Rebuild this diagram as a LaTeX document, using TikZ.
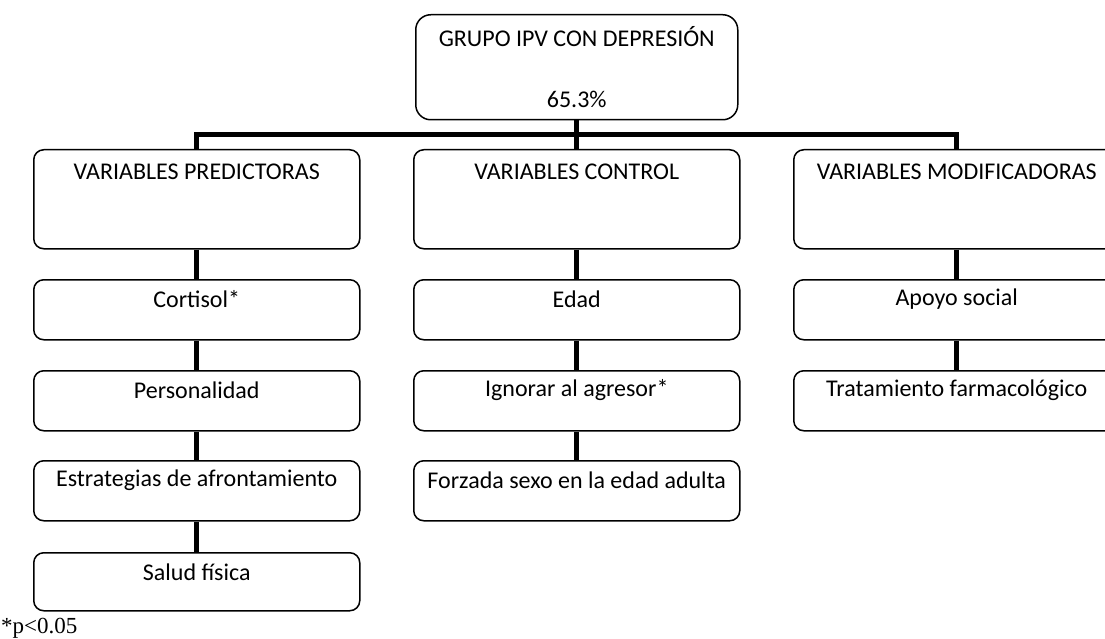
\documentclass[tikz,border=0pt]{standalone}
\usepackage{fontspec}
\setmainfont{Carlito}
\newfontfamily\notefont{Liberation Serif}

\begin{document}
\begin{tikzpicture}[x=1pt,y=-1pt,
  box/.style={draw, line width=1.5pt, rounded corners=10pt, anchor=north west,
              minimum width=326pt, minimum height=60pt, inner sep=0pt},
  headbox/.style={box, minimum height=99pt},
  topbox/.style={box, rounded corners=15pt, minimum width=322pt, minimum height=105pt},
  lbl/.style={anchor=center, inner sep=0pt, font=\fontsize{24}{28}\selectfont},
  conn/.style={line width=5pt}]
\useasboundingbox (0,0) rectangle (1105,639);

% root
\node[topbox] (top) at (415,14) {};
\node[lbl] (top-a) at ([yshift=-23pt]top.north) {GRUPO IPV CON DEPRESIÓN};
\node[lbl] (top-b) at ([yshift=21pt]top.south) {65.3\%};

% group headers
\node[headbox] (pred) at (33,149) {};
\node[headbox] (ctrl) at (413,149) {};
\node[headbox] (modi) at (793,149) {};
\node[lbl] (pred-t) at ([yshift=-23pt]pred.north) {VARIABLES PREDICTORAS};
\node[lbl] (ctrl-t) at ([yshift=-23pt]ctrl.north) {VARIABLES CONTROL};
\node[lbl] (modi-t) at ([yshift=-23pt]modi.north) {VARIABLES MODIFICADORAS};

% predictors
\node[box] (p1) at (33,279) {};
\node[box] (p2) at (33,370) {};
\node[box] (p3) at (33,460) {};
\node[box, minimum height=58pt] (p4) at (33,552) {};
\node[lbl] (p1-t) at ([yshift=-20pt]p1.north) {Cortisol*};
\node[lbl] (p2-t) at ([yshift=-20pt]p2.north) {Personalidad};
\node[lbl] (p3-t) at ([yshift=-20pt]p3.north) {Estrategias de afrontamiento};
\node[lbl] (p4-t) at ([yshift=-20pt]p4.north) {Salud física};

% control variables
\node[box] (c1) at (413,279) {};
\node[box] (c2) at (413,370) {};
\node[box] (c3) at (413,460) {};
\node[lbl] (c1-t) at ([yshift=-20pt]c1.north) {Edad};
\node[lbl] (c2-t) at ([yshift=-20pt]c2.north) {Ignorar al agresor*};
\node[lbl] (c3-t) at ([yshift=-20pt]c3.north) {Forzada sexo en la edad adulta};

% modifiers
\node[box] (m1) at (793,279) {};
\node[box] (m2) at (793,370) {};
\node[lbl] (m1-t) at ([yshift=-20pt]m1.north) {Apoyo social};
\node[lbl] (m2-t) at ([yshift=-20pt]m2.north) {Tratamiento farmacológico};

% connectors
\coordinate (bus) at (576,134.5);
\draw[conn] (top.south) -- (ctrl.north);
\draw[conn] (pred.north) |- (bus) -| (modi.north);
\draw[conn] (pred.south) -- (p1.north);
\draw[conn] (p1.south) -- (p2.north);
\draw[conn] (p2.south) -- (p3.north);
\draw[conn] (p3.south) -- (p4.north);
\draw[conn] (ctrl.south) -- (c1.north);
\draw[conn] (c1.south) -- (c2.north);
\draw[conn] (c2.south) -- (c3.north);
\draw[conn] (modi.south) -- (m1.north);
\draw[conn] (m1.south) -- (m2.north);

% footnote
\node[anchor=base west, inner sep=0pt, font=\notefont\fontsize{23}{26}\selectfont] (note) at (1,633) {*p<0.05};
\end{tikzpicture}
\end{document}
